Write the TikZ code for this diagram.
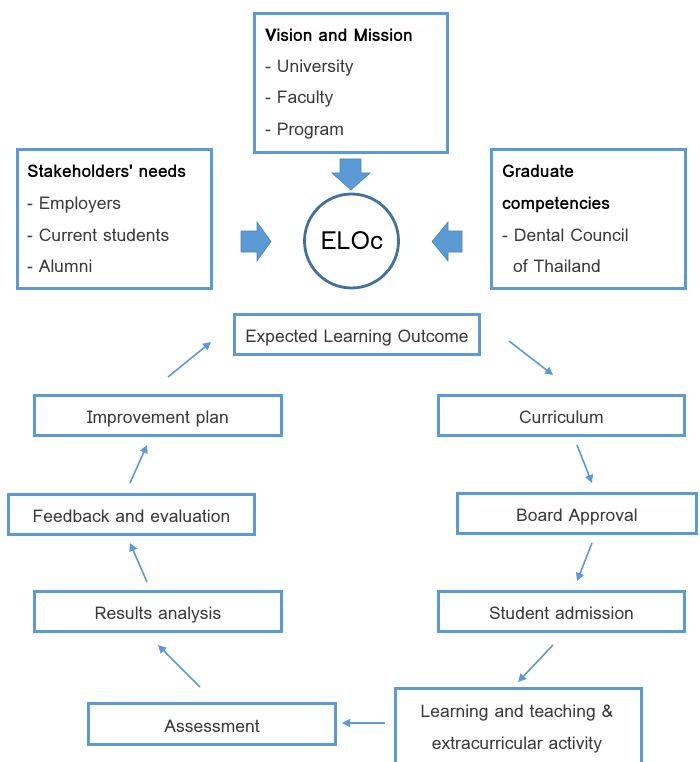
\documentclass[tikz,border=0pt]{standalone}
\usepackage{fontspec}
\setmainfont{Loma}
\usetikzlibrary{arrows.meta}
\definecolor{boxblue}{HTML}{5B9BD5}
\definecolor{ringblue}{HTML}{41719C}
\definecolor{txt}{HTML}{3A3A3A}
\tikzset{
  stepbox/.style={draw=boxblue, line width=3pt, fill=white, rectangle, inner sep=0pt,
    font=\fontsize{17.5}{21}\selectfont, text=txt, text height=19pt, text depth=3pt},
  framebox/.style={draw=boxblue, line width=3pt, fill=white, rectangle, inner sep=0pt},
  line/.style={anchor=base west, inner sep=0pt, font=\fontsize{17.5}{21}\selectfont, text=txt},
  head/.style={line, font=\bfseries\fontsize{17.5}{21}\selectfont, text=black},
  flow/.style={draw=boxblue, line width=1.6pt, -{Triangle[length=8pt,width=8pt]}},
  blockarrow/.style={fill=boxblue, draw=boxblue!85!black, line width=0.6pt}
}
\begin{document}
\begin{tikzpicture}[x=1pt, y=-1pt]
\useasboundingbox (0,0) rectangle (699,762);

% upper input boxes
\node[framebox, minimum width=193pt, minimum height=139pt] (vis) at (351,83) {};
\node[framebox, minimum width=194pt, minimum height=139pt] (stk) at (114.5,219) {};
\node[framebox, minimum width=194pt, minimum height=139pt] (grd) at (588.5,219) {};

\node[head] (vis1) at (265,42) {Vision and Mission};
\node[line] (vis2) at (265,73) {- University};
\node[line] (vis3) at (265,104) {- Faculty};
\node[line] (vis4) at (265,136) {- Program};

\node[head] (stk1) at (27,178) {Stakeholders\textquotesingle\ needs};
\node[line] (stk2) at (27,209) {- Employers};
\node[line] (stk3) at (27,241) {- Current students};
\node[line] (stk4) at (27,272) {- Alumni};

\node[head] (grd1) at (502,178) {Graduate};
\node[head] (grd2) at (502,209) {competencies};
\node[line] (grd3) at (502,241) {- Dental Council};
\node[line] (grd4) at (513,272) {of Thailand};

% central ELOc circle
\node[circle, draw=ringblue, line width=2.8pt, minimum size=94pt, inner sep=0pt,
  font=\fontsize{25}{30}\selectfont] (eloc) at (351.5,241) {ELOc};

% block arrows into the circle
\fill[blockarrow] (340,159) -- (361,159) -- (361,173) -- (370,173) -- (351,190)
  -- (332,173) -- (340,173) -- cycle;
\fill[blockarrow] (241,231) -- (257,231) -- (257,222) -- (271,241.5) -- (257,261)
  -- (257,252) -- (241,252) -- cycle;
\fill[blockarrow] (462,231) -- (448,231) -- (448,222) -- (432,241.5) -- (448,261)
  -- (448,252) -- (462,252) -- cycle;

% cycle of steps
\node[stepbox, minimum width=245pt, minimum height=40pt] (elo) at (357,334.5) {Expected Learning Outcome};
\node[stepbox, minimum width=246pt, minimum height=40pt] (cur) at (561.5,415.5) {Curriculum};
\node[stepbox, minimum width=239pt, minimum height=40pt] (brd) at (577,513.5) {Board Approval};
\node[stepbox, minimum width=246pt, minimum height=40pt] (stu) at (561.5,611.5) {Student admission};
\node[framebox, minimum width=246pt, minimum height=77pt] (lrn) at (518.5,727) {};
\node[line, anchor=base] (lrn1) at (517,717) {Learning and teaching \&};
\node[line, anchor=base] (lrn2) at (517,749) {extracurricular activity};
\node[stepbox, minimum width=247pt, minimum height=41pt] (ass) at (212,724) {Assessment};
\node[stepbox, minimum width=247pt, minimum height=40pt] (res) at (158,611.5) {Results analysis};
\node[stepbox, minimum width=246pt, minimum height=40pt] (fb) at (131.5,514.5) {Feedback and evaluation};
\node[stepbox, minimum width=247pt, minimum height=40pt] (imp) at (158,415.5) {Improvement plan};

% connector end points
\coordinate (a1s) at (509,341);  \coordinate (a1e) at (553,375);
\coordinate (a2s) at (577,445);  \coordinate (a2e) at (592,483);
\coordinate (a3s) at (592,543);  \coordinate (a3e) at (577,581);
\coordinate (a4s) at (553,645);  \coordinate (a4e) at (518,682);
\coordinate (a5s) at (385,723);  \coordinate (a5e) at (342,723);
\coordinate (a6s) at (200,687);  \coordinate (a6e) at (158,645);
\coordinate (a7s) at (147,582);  \coordinate (a7e) at (130,543);
\coordinate (a8s) at (130,483);  \coordinate (a8e) at (147,445);
\coordinate (a9s) at (168,377);  \coordinate (a9e) at (211,342);

\draw[flow] (a1s) -- (a1e);
\draw[flow] (a2s) -- (a2e);
\draw[flow] (a3s) -- (a3e);
\draw[flow] (a4s) -- (a4e);
\draw[flow] (a5s) -- (a5e);
\draw[flow] (a6s) -- (a6e);
\draw[flow] (a7s) -- (a7e);
\draw[flow] (a8s) -- (a8e);
\draw[flow] (a9s) -- (a9e);
\end{tikzpicture}
\end{document}
